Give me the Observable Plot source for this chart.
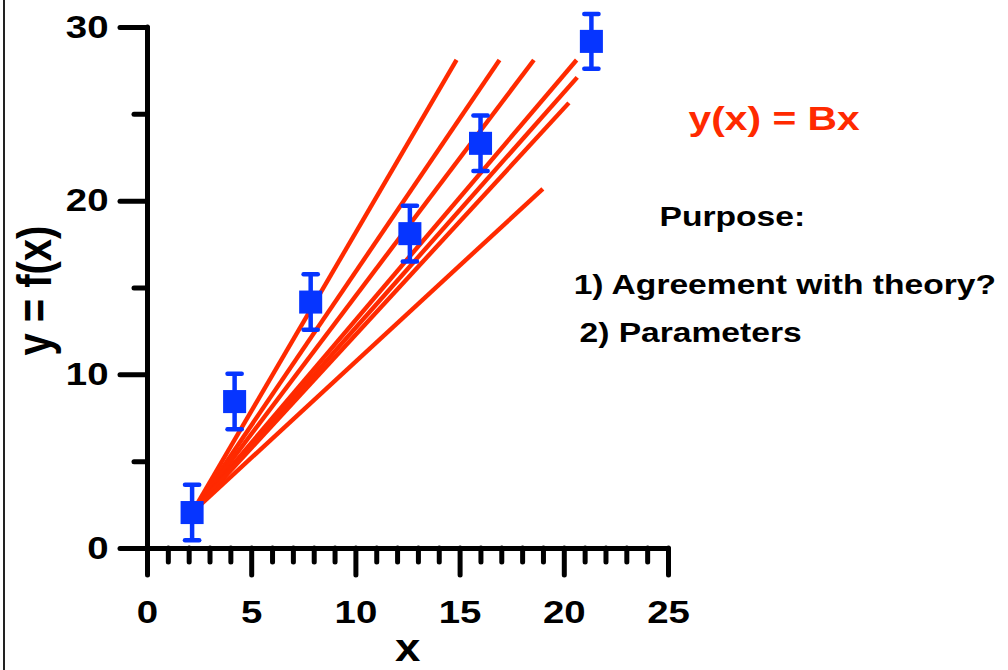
<!DOCTYPE html>
<html><head><meta charset="utf-8">
<script src="https://cdn.jsdelivr.net/npm/d3@7"></script>
<script src="https://cdn.jsdelivr.net/npm/@observablehq/plot@0.6"></script>
<style>
html,body{margin:0;padding:0;background:#fff;}
body{width:1008px;height:670px;overflow:hidden;position:relative;}
#frame{position:absolute;left:3px;top:0;width:2px;height:670px;background:#222;}
#chart{position:absolute;left:0;top:0;}
#chart g[aria-label$="tick"]{stroke-width:5px;stroke-linecap:round;stroke:#000;}
</style></head><body>
<div id="chart"></div><div id="frame"></div>
<script>
// measured data points (x, y, y error)
const pointX = [2.14, 4.18, 7.83, 12.59, 15.98, 21.3];
const pointY = [2.07, 8.46, 14.19, 18.13, 23.33, 29.2];
const pointErr = [1.6, 1.6, 1.6, 1.6, 1.6, 1.58];
// end points of the trial fit lines y(x) = Bx (they start at the first point)
const fitEndX = [14.83, 16.89, 18.54, 20.59, 20.62, 20.22, 18.97];
const fitEndY = [28.13, 28.13, 28.13, 28.13, 27.13, 25.66, 20.71];
// ticks
const xMajor = [0, 5, 10, 15, 20, 25];
const xMinor = [1,2,3,4,6,7,8,9,11,12,13,14,16,17,18,19,21,22,23,24];
const yMajor = [0, 10, 20, 30];
const yMinor = [5, 15, 25];
// texts
const formulaText = "y(x) = Bx";
const notes = ["Purpose:", "1) Agreement with theory?", "2) Parameters"];
const xLabel = "x";
const yLabel = "y = f(x)";

const BLUE = "#0635ff";
const RED = "#ff2a00";
const FONT = "'Liberation Sans', Arial, Helvetica, sans-serif";

const points = pointX.map((x, i) => ({x, y: pointY[i], lo: pointY[i] - pointErr[i], hi: pointY[i] + pointErr[i]}));
const fits = fitEndX.map((x, i) => ({x1: pointX[0], y1: pointY[0], x2: x, y2: fitEndY[i]}));

const capSymbol = {
  draw(context, size) {
    const w = Math.sqrt(size);
    context.moveTo(-w / 2, 0);
    context.lineTo(w / 2, 0);
  }
};

const chart = Plot.plot({
  width: 1008,
  height: 670,
  marginLeft: 147,
  marginRight: 340,
  marginTop: 27,
  marginBottom: 122,
  x: {domain: [0, 25]},
  y: {domain: [0, 30]},
  style: {fontFamily: FONT, fontSize: "32px", fontWeight: "bold", color: "black", background: "white", overflow: "visible"},
  marks: [
    Plot.link(fits, {x1: "x1", y1: "y1", x2: "x2", y2: "y2", stroke: RED, strokeWidth: 4.4}),
    Plot.ruleX(points, {x: "x", y1: "lo", y2: "hi", stroke: BLUE, strokeWidth: 4.5}),
    Plot.dot(points, {x: "x", y: "lo", symbol: capSymbol, r: 8, stroke: BLUE, strokeWidth: 4.5, strokeLinecap: "round", fill: "none"}),
    Plot.dot(points, {x: "x", y: "hi", symbol: capSymbol, r: 8, stroke: BLUE, strokeWidth: 4.5, strokeLinecap: "round", fill: "none"}),
    Plot.dot(points, {x: "x", y: "y", symbol: "square", r: 13, fill: BLUE, stroke: null}),
    // axes
    Plot.ruleX([0], {y1: 0, y2: 30, stroke: "black", strokeWidth: 5, strokeLinecap: "round"}),
    Plot.ruleY([0], {x1: 0, x2: 25, stroke: "black", strokeWidth: 5, strokeLinecap: "round"}),
    Plot.axisY({ticks: yMajor, tickSize: 27, tickPadding: 12, strokeWidth: 5, strokeLinecap: "round", label: null}),
    Plot.axisY({ticks: yMinor, tickSize: 13, tickFormat: () => "", strokeWidth: 5, strokeLinecap: "round", label: null}),
    Plot.axisX({ticks: xMajor, tickSize: 27, tickPadding: 25, strokeWidth: 5, strokeLinecap: "round", label: null}),
    Plot.axisX({ticks: xMinor, tickSize: 14, tickFormat: () => "", strokeWidth: 5, strokeLinecap: "round", label: null}),
    // axis titles
    Plot.text([xLabel], {x: 12.48, y: -5.8, text: d => d, fontSize: 38, fontWeight: "bold", fill: "black", lineAnchor: "middle"}),
    Plot.text([yLabel], {x: -5.36, y: 14.85, text: d => d, fontSize: 40, fontWeight: "bold", fill: "black", rotate: -90, lineAnchor: "middle"}),
    // annotations
    Plot.text([formulaText], {x: 25.96, y: 24.73, text: d => d, fontSize: 34, fontWeight: "bold", fill: RED, textAnchor: "start", lineAnchor: "middle"}),
    Plot.text([notes[0]], {x: 24.57, y: 19.11, text: d => d, fontSize: 28, fontWeight: "bold", fill: "black", textAnchor: "start", lineAnchor: "middle"}),
    Plot.text([notes[1]], {x: 20.45, y: 15.18, text: d => d, fontSize: 28, fontWeight: "bold", fill: "black", textAnchor: "start", lineAnchor: "middle"}),
    Plot.text([notes[2]], {x: 20.73, y: 12.38, text: d => d, fontSize: 28, fontWeight: "bold", fill: "black", textAnchor: "start", lineAnchor: "middle"})
  ]
});

// the reference's lettering is horizontally stretched; widen glyphs around their anchors
chart.querySelectorAll("text").forEach(t => {
  const tr = t.getAttribute("transform") || "";
  t.setAttribute("transform", tr + (tr.includes("rotate") ? " scale(1,1.2)" : " scale(1.2,1)"));
});

document.getElementById("chart").appendChild(chart);
</script>
</body></html>
